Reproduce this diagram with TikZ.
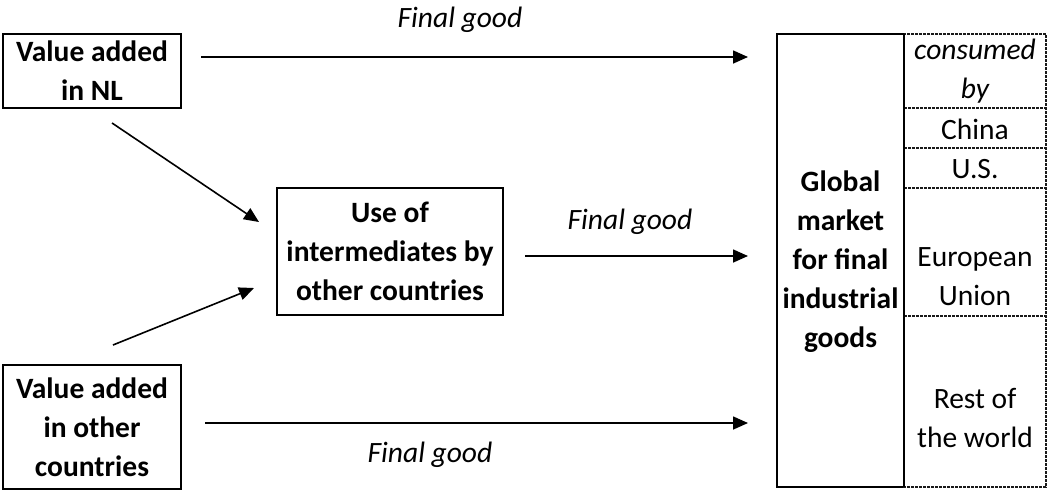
\documentclass[tikz,border=0pt]{standalone}
\usepackage{fontspec}
\setmainfont{Carlito}
\usetikzlibrary{arrows.meta}
\begin{document}
\begin{tikzpicture}[x=1pt,y=-1pt,
  txt/.style={font=\fontsize{29.5}{39}\selectfont, align=center, inner sep=0pt},
  btxt/.style={txt, font=\fontsize{29.5}{39}\selectfont\bfseries},
  itxt/.style={txt, font=\fontsize{29.5}{39}\selectfont\itshape},
  box/.style={draw, line width=2.6pt, minimum width=#1, inner sep=0pt},
  arr/.style={line width=1.6pt, -{Triangle[length=15pt,width=13pt]}},
  cell/.style={draw=black!90, line width=2.2pt, dash pattern=on 3pt off 1pt}
]
\useasboundingbox (0,0) rectangle (1048,491);
% boxes
\node[box=178pt, minimum height=74pt] (nl) at (92,71) {};
\node[btxt] at (92,71) {Value added\\in NL};
\node[box=178pt, minimum height=124pt] (oc) at (92,427) {};
\node[btxt] at (92,427) {Value added\\in other\\countries};
\node[box=226pt, minimum height=127pt] (use) at (390,251.5) {};
\node[btxt] at (390,251.5) {Use of\\intermediates by\\other countries};
% global market
\node[box=127pt, minimum height=453pt] (gm) at (840.5,260.5) {};
\node[btxt] at (840.5,262) {Global\\market\\for final\\industrial\\goods};
% right column cells
\draw[cell] (904,34) rectangle (1046,487);
\draw[cell] (904,108) -- (1046,108);
\draw[cell] (904,148) -- (1046,148);
\draw[cell] (904,188) -- (1046,188);
\draw[cell] (904,316) -- (1046,316);
\node[itxt] (cb) at (975,71) {consumed\\by};
\node[txt] (cn) at (975,129) {China};
\node[txt] (us) at (975,169) {U.S.};
\node[txt] (eu) at (975,277) {European\\Union};
\node[txt] (rw) at (975,418) {Rest of\\the world};
% redraw left column solid on top
\draw[line width=2.6pt] (904,34) -- (904,487);
% arrows
\coordinate (a1s) at (201,57); \coordinate (a1e) at (748,57);
\coordinate (a2s) at (525,256); \coordinate (a2e) at (748,256);
\coordinate (a3s) at (205,423); \coordinate (a3e) at (748,423);
\coordinate (d1s) at (112,123); \coordinate (d1e) at (259,222);
\coordinate (d2s) at (113,345); \coordinate (d2e) at (254,288);
\draw[arr] (a1s) -- (a1e);
\draw[arr] (a2s) -- (a2e);
\draw[arr] (a3s) -- (a3e);
\draw[arr] (d1s) -- (d1e);
\draw[arr] (d2s) -- (d2e);
\node[itxt] (l1) at (460,20) {Final good};
\node[itxt] (l2) at (630,222) {Final good};
\node[itxt] (l3) at (430,455) {Final good};
\end{tikzpicture}
\end{document}
